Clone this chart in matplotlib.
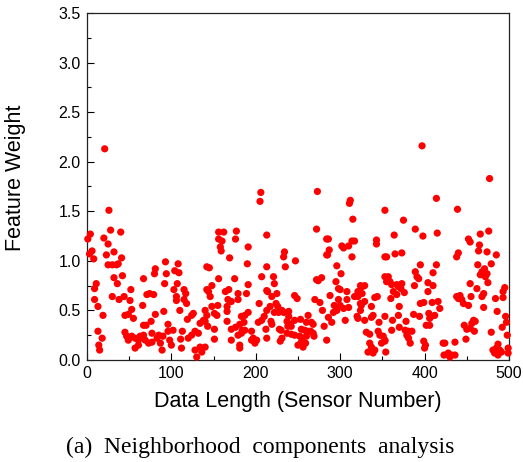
import numpy as np
import matplotlib.pyplot as plt

# sensor index and NCA feature weight
sensor_no = [
    21, 26, 4, 1, 28, 40, 20, 25, 6, 3, 8, 23, 32, 41, 25, 30, 35, 37, 42, 32, 36, 11, 9, 67, 52, 30, 44, 38, 9, 13,
    51, 66, 53, 49, 45, 55, 19, 67, 13, 18, 14, 15, 45, 47, 49, 53, 57, 61, 63, 67, 69, 57, 61, 71,
    93, 108, 81, 80, 94, 104, 109, 92, 107, 74, 79, 103, 115, 117, 106, 106, 115, 118, 110, 91, 81, 126, 124, 119,
    76, 96, 140, 138, 134, 70, 77, 85, 90, 96, 102, 113, 120, 124, 128, 132, 73, 77, 83, 87, 89, 98, 100, 111, 112,
    128, 130, 134, 136, 142, 142,
    206, 205, 156, 162, 156, 160, 158, 159, 177, 176, 191, 213, 169, 190, 145, 156, 175, 207, 213, 148, 144, 146,
    191, 164, 168, 179, 179, 189, 213, 167, 166, 171, 155, 148, 151, 154, 142, 140, 143, 204, 213, 166, 191, 187,
    183, 203, 207, 210, 166, 181, 186, 151, 171, 176, 184, 187, 171, 179, 183, 151, 195, 197, 201, 199, 195, 181,
    181, 140,
    273, 272, 284, 234, 233, 247, 235, 221, 222, 214, 284, 272, 278, 274, 225, 219, 246, 249, 270, 276, 279, 217,
    224, 226, 227, 231, 233, 239, 239, 222, 218, 219, 228, 237, 241, 238, 242, 246, 253, 262, 260, 266, 268, 212,
    237, 242, 246, 230, 229, 231, 254, 252, 255, 258, 260, 262, 265, 268, 269, 250, 256, 254, 259, 281, 213,
    312, 311, 315, 353, 286, 314, 317, 302, 304, 310, 343, 343, 287, 285, 314, 353, 296, 301, 295, 298, 300, 308,
    324, 326, 329, 321, 326, 317, 321, 353, 344, 341, 288, 298, 300, 308, 310, 324, 329, 325, 324, 337, 293, 296,
    292, 304, 320, 321, 329, 339, 337, 306, 286, 290, 346, 353, 331, 335, 345, 347, 351, 353, 349, 335, 337, 333,
    341, 339, 284,
    397, 414, 375, 389, 398, 364, 415, 355, 365, 373, 395, 414, 389, 391, 393, 410, 357, 359, 355, 361, 367, 373,
    372, 369, 404, 410, 388, 404, 363, 367, 376, 360, 370, 395, 399, 409, 416, 418, 369, 387, 394, 405, 408, 412,
    406, 362, 378, 370, 402, 406, 361, 377, 381, 385, 379, 381, 383, 399, 401, 400, 422, 423, 353, 354,
    477, 439, 466, 476, 452, 454, 465, 464, 474, 485, 440, 438, 463, 479, 471, 468, 474, 466, 472, 475, 454, 462,
    495, 493, 470, 468, 438, 442, 444, 440, 455, 446, 452, 493, 484, 470, 486, 496, 497, 492, 458, 460, 456, 447,
    450, 454, 459, 479, 498, 449, 436, 487, 485, 481, 489, 483, 487, 499, 499, 491, 424, 428, 432, 436, 430,
]
feature_weight = [
    2.13, 1.51, 1.27, 1.22, 1.31, 1.29, 1.23, 1.17, 1.10, 1.07, 1.02, 1.06, 1.09, 1.03, 0.96, 0.96, 0.96, 0.97, 0.85,
    0.83, 0.77, 0.77, 0.72, 0.82, 0.71, 0.64, 0.64, 0.61, 0.61, 0.54,
    0.60, 0.55, 0.51, 0.46, 0.45, 0.42, 0.45, 0.35, 0.29, 0.22, 0.15, 0.10, 0.28, 0.24, 0.20, 0.24, 0.22, 0.20, 0.24,
    0.25, 0.20, 0.12, 0.15, 0.66,
    0.99, 0.97, 0.92, 0.87, 0.87, 0.90, 0.88, 0.77, 0.77, 0.67, 0.66, 0.71, 0.71, 0.67, 0.64, 0.60, 0.61, 0.57, 0.50,
    0.49, 0.46, 0.47, 0.45, 0.41,
    0.39, 0.36, 0.50, 0.40, 0.37, 0.35, 0.27, 0.25, 0.24, 0.29, 0.30, 0.29, 0.22, 0.25, 0.29, 0.27, 0.17, 0.18, 0.22,
    0.17, 0.10, 0.20, 0.15, 0.21, 0.12,
    0.10, 0.03, 0.13, 0.08, 0.94, 0.71,
    1.69, 1.60, 1.29, 1.29, 1.22, 1.20, 1.14, 1.10, 1.30, 1.22, 1.14, 1.26, 1.03, 0.97, 0.93, 0.82, 0.82, 0.84, 0.94,
    0.75, 0.69, 0.64,
    0.76, 0.69, 0.71, 0.67, 0.61, 0.67, 0.70, 0.61, 0.54, 0.59, 0.55, 0.54, 0.47, 0.45, 0.45, 0.39, 0.34, 0.57, 0.50,
    0.49, 0.48, 0.45,
    0.44, 0.38, 0.40, 0.44, 0.39, 0.36, 0.38, 0.31, 0.31, 0.33, 0.30, 0.30, 0.20, 0.25, 0.27, 0.21, 0.29, 0.22, 0.20,
    0.17, 0.20, 0.12,
    0.15, 0.13,
    1.70, 1.32, 1.22, 1.09, 1.04, 1.00, 0.94, 0.84, 0.77, 0.69, 1.06, 0.81, 0.83, 0.80, 0.67, 0.64, 0.65, 0.62, 0.61,
    0.58, 0.50, 0.54,
    0.57, 0.54, 0.48, 0.50, 0.48, 0.49, 0.44, 0.48, 0.39, 0.36, 0.31, 0.39, 0.36, 0.34, 0.34, 0.40, 0.41, 0.45, 0.38,
    0.38, 0.36, 0.31,
    0.27, 0.26, 0.25, 0.30, 0.19, 0.22, 0.31, 0.24, 0.22, 0.30, 0.24, 0.29, 0.29, 0.27, 0.24, 0.15, 0.13, 0.18, 0.17,
    0.34, 0.22,
    1.61, 1.58, 1.42, 1.51, 1.22, 1.20, 1.20, 1.15, 1.13, 1.15, 1.21, 1.17, 1.11, 1.06, 1.04, 1.04, 0.95, 0.87, 0.79,
    0.72, 0.71, 0.69,
    0.75, 0.74, 0.75, 0.69, 0.67, 0.64, 0.64, 0.84, 0.64, 0.63, 0.65, 0.61, 0.55, 0.61, 0.53, 0.57, 0.59, 0.55, 0.50,
    0.54, 0.55, 0.50,
    0.48, 0.52, 0.44, 0.42, 0.40, 0.45, 0.43, 0.40, 0.43, 0.38, 0.38, 0.44, 0.28, 0.26, 0.29, 0.25, 0.24, 0.20, 0.17,
    0.17, 0.13, 0.08,
    0.10, 0.07, 0.20,
    2.16, 1.63, 1.41, 1.32, 1.25, 1.26, 1.28, 1.04, 1.07, 1.08, 0.96, 0.96, 0.89, 0.84, 0.82, 0.88, 0.84, 0.79, 0.79,
    0.76, 0.76, 0.77,
    0.72, 0.74, 0.78, 0.75, 0.75, 0.69, 0.69, 0.66, 0.68, 0.62, 0.54, 0.57, 0.58, 0.58, 0.59, 0.52, 0.45, 0.46, 0.44,
    0.47, 0.44, 0.45,
    0.42, 0.40, 0.39, 0.33, 0.35, 0.35, 0.30, 0.30, 0.29, 0.29, 0.25, 0.22, 0.17, 0.19, 0.15, 0.12, 0.17, 0.05, 0.19,
    0.08,
    1.83, 1.52, 1.27, 1.30, 1.22, 1.19, 1.16, 1.10, 1.09, 1.06, 1.08, 1.04, 0.96, 0.97, 0.92, 0.89, 0.87, 0.86, 0.84,
    0.78, 0.77, 0.72,
    0.73, 0.69, 0.67, 0.64, 0.64, 0.65, 0.61, 0.62, 0.64, 0.57, 0.55, 0.63, 0.62, 0.53, 0.49, 0.44, 0.38, 0.33, 0.40,
    0.39, 0.37, 0.35,
    0.31, 0.32, 0.29, 0.28, 0.25, 0.21, 0.18, 0.16, 0.12, 0.10, 0.10, 0.07, 0.05, 0.12, 0.07, 0.08, 0.17, 0.07, 0.05,
    0.05, 0.03,
]

x_ticks = [0, 100, 200, 300, 400, 500]
y_ticks = [0.0, 0.5, 1.0, 1.5, 2.0, 2.5, 3.0, 3.5]

plt.rcParams['font.family'] = ['Liberation Sans', 'DejaVu Sans']

fig = plt.figure(figsize=(5.23, 4.62), dpi=100)
ax = fig.add_axes([0.1663, 0.2208, 0.8069, 0.7511])

ax.scatter(sensor_no, feature_weight, s=27, c='#ff0000', edgecolors='none', zorder=3, clip_on=False)

ax.set_xlim(0, 500)
ax.set_ylim(0, 3.5)
ax.set_xticks(x_ticks)
ax.set_yticks(y_ticks)
ax.set_xticks(np.arange(50, 500, 100), minor=True)
ax.set_yticks(np.arange(0.25, 3.5, 0.5), minor=True)
ax.set_yticklabels(['%.1f' % v for v in y_ticks])
ax.tick_params(which='major', direction='in', length=5, width=0.8, labelsize=11.5, pad=4.5)
ax.tick_params(which='minor', direction='in', length=3, width=0.8)
for sp in ax.spines.values():
    sp.set_linewidth(0.9)
    sp.set_color('#222222')

ax.set_xlabel('Data Length (Sensor Number)', fontsize=15.5)
ax.set_ylabel('Feature Weight', fontsize=15.5)
ax.xaxis.set_label_coords(0.5, -0.09)
ax.yaxis.set_label_coords(-0.145, 0.524)

fig.text(0.497, 0.0195, '(a)  Neighborhood  components  analysis', ha='center', va='baseline',
         fontsize=17, family=['Liberation Serif', 'DejaVu Serif'])

fig.savefig('out.png', dpi=100)
